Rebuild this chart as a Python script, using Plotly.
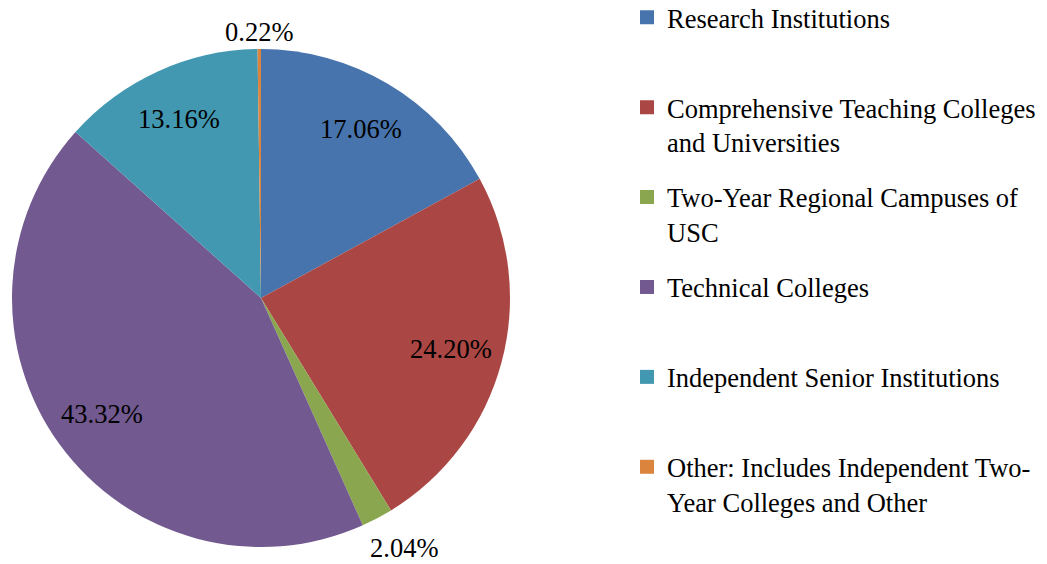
import math
import plotly.graph_objects as go

categories = [
    "Research Institutions",
    "Comprehensive Teaching Colleges<br>and Universities",
    "Two-Year Regional Campuses of<br>USC",
    "Technical Colleges",
    "Independent Senior Institutions",
    "Other: Includes Independent Two-<br>Year Colleges and Other",
]
shares = [17.06, 24.20, 2.04, 43.32, 13.16, 0.22]
colors = ["#4774AD", "#AA4643", "#8AA64F", "#72598F", "#4298B1", "#DB843D"]
label_inside = [True, True, False, True, True, False]

FONT = "Liberation Serif"
FS = 26.5
W, H = 1047, 564
# pie box in pixels (the page adds an 8px body margin)
PX0, PX1 = 4, 502
PY0, PY1 = 40, 540

fig = go.Figure()
fig.add_trace(go.Pie(
    labels=categories,
    values=shares,
    sort=False,
    direction="clockwise",
    rotation=0,
    marker=dict(colors=colors, line=dict(width=0)),
    textinfo="none",
    domain=dict(x=[PX0 / W, PX1 / W], y=[1 - PY1 / H, 1 - PY0 / H]),
    showlegend=False,
    hoverinfo="label+percent",
))

# data labels placed from the cumulative shares
cx, cy = (PX0 + PX1) / 2, (PY0 + PY1) / 2
R = min(PX1 - PX0, PY1 - PY0) / 2
total = sum(shares)
cum = 0.0
for v, inside in zip(shares, label_inside):
    mid = (cum + v / 2) / total * 2 * math.pi
    cum += v
    sx, sy = math.sin(mid), -math.cos(mid)
    if inside:
        r = 0.79 * R
        px, py = cx + r * sx, cy + r * sy
    else:
        r = R + 2 + abs(sy) * 15 + abs(sx) * 40
        px, py = cx + r * sx + 24 * sx, cy + r * sy
    fig.add_annotation(
        x=px / W, y=1 - py / H, xref="paper", yref="paper",
        text=f"{v:.2f}%", showarrow=False,
        font=dict(family=FONT, size=FS, color="#000000"),
        xanchor="center", yanchor="middle",
    )

# legend entries (one per category, padded to two lines for uniform spacing)
for i, (name, col) in enumerate(zip(categories, colors)):
    label = name if "<br>" in name else name + "<br> "
    fig.add_trace(go.Scatter(
        x=[None], y=[None], mode="markers",
        marker=dict(symbol="square", size=14, color=col),
        name=label, legendgroup=f"g{i}", showlegend=True,
    ))

fig.update_layout(
    width=W, height=H,
    margin=dict(l=0, r=0, t=0, b=0, autoexpand=False),
    paper_bgcolor="white", plot_bgcolor="white",
    xaxis=dict(visible=False), yaxis=dict(visible=False),
    font=dict(family=FONT, size=FS, color="#000000"),
    legend=dict(
        x=619 / W, y=0.554, xanchor="left", yanchor="middle",
        valign="top", tracegroupgap=18,
        font=dict(family=FONT, size=FS, color="#000000"),
        bgcolor="rgba(0,0,0,0)", itemwidth=30,
    ),
)

fig.write_html("out.html")
